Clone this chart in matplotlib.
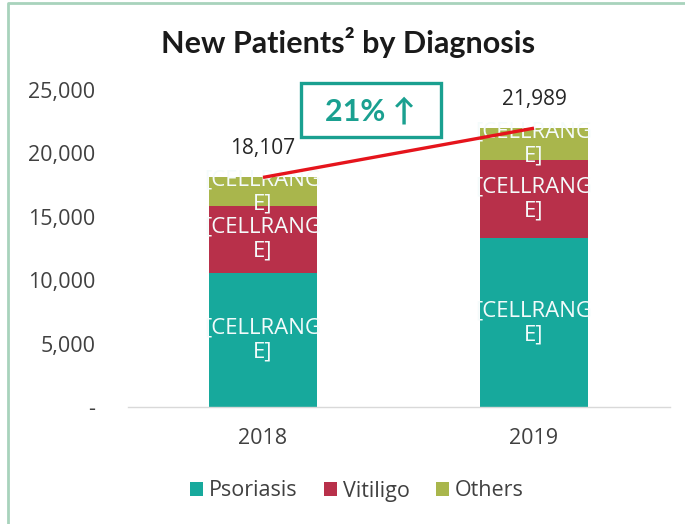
import matplotlib
matplotlib.use("Agg")
import matplotlib.pyplot as plt
from matplotlib.patches import Rectangle
from matplotlib.lines import Line2D
import numpy as np

years = ["2018", "2019"]
psoriasis = [10600, 13300]
vitiligo = [5250, 6150]
others = [2257, 2539]
totals = [18107, 21989]
series_names = ["Psoriasis", "Vitiligo", "Others"]
colors = ["#17a99c", "#b8304a", "#a9b64c"]
yticks = [0, 5000, 10000, 15000, 20000, 25000]
ytick_labels = ["-", "5,000", "10,000", "15,000", "20,000", "25,000"]
growth_label = "21% \u2191"
seg_label = "[CELLRANG\nE]"

W, H = 685, 524
BODY = ['Open Sans', 'DejaVu Sans']
HEAD = ['Lato', 'DejaVu Sans']
plt.rcParams['font.family'] = BODY
fig = plt.figure(figsize=(W / 100, H / 100), dpi=100)
ax = fig.add_axes([127.5 / W, (H - 407) / H, 542 / W, 317 / H])

x = np.arange(len(years))
bottom = np.zeros(len(years))
for vals, name, col in zip([psoriasis, vitiligo, others], series_names, colors):
    ax.bar(x, vals, width=0.4, bottom=bottom, color=col, label=name, zorder=2)
    for xi, b, v in zip(x, bottom, vals):
        ax.text(xi, b + v / 2, seg_label, ha="center", va="center", color="#f4fbfb",
                fontsize=16, linespacing=1.2, zorder=3)
    bottom = bottom + np.array(vals)

ax.plot(x, totals, color="#e5141c", lw=2.4, zorder=4, solid_capstyle="butt")
for xi, t in zip(x, totals):
    ax.annotate(f"{t:,}", (xi, t), xytext=(0, 21), textcoords="offset points",
                ha="center", va="center", fontsize=15, color="#262626")

ax.set_xlim(-0.5, 1.5)
ax.set_ylim(0, 25000)
ax.set_yticks(yticks)
ax.set_yticklabels(ytick_labels)
ax.set_xticks(x)
ax.set_xticklabels(years)
ax.tick_params(axis="y", length=0, pad=23, labelsize=15.5, labelcolor="#404040")
ax.tick_params(axis="x", length=0, pad=15, labelsize=15.5, labelcolor="#404040")
for s in ["top", "right", "left"]:
    ax.spines[s].set_visible(False)
ax.spines["bottom"].set_color("#d9d9d9")
ax.spines["bottom"].set_linewidth(1.0)

fig.text(348 / W, 1 - 43 / H, "New Patients\u00b2 by Diagnosis", ha="center", va="center",
         fontsize=22, fontweight="bold", color="#1a1a1a", family=HEAD)

# growth box
fig.patches.append(Rectangle((301 / W, 1 - 137 / H), 140 / W, 54 / H, transform=fig.transFigure,
                             fill=False, edgecolor="#1aa090", linewidth=2.4, zorder=5))
fig.text(370 / W, 1 - 111 / H, growth_label, ha="center", va="center", fontsize=22,
         fontweight="bold", color="#1aa090", family=HEAD)

# border
fig.add_artist(Line2D([8 / W, 8 / W, 1], [0, 1 - 3 / H, 1 - 3 / H], transform=fig.transFigure,
                      color="#a8d3bc", lw=2))

leg = fig.legend(loc="center", bbox_to_anchor=(357 / W, 1 - 491 / H), ncol=3, frameon=False,
                 fontsize=15.5, handlelength=0.6, handleheight=0.6, handletextpad=0.3,
                 columnspacing=1.2)
for t in leg.get_texts():
    t.set_color("#404040")

fig.savefig("out.png", dpi=100)
